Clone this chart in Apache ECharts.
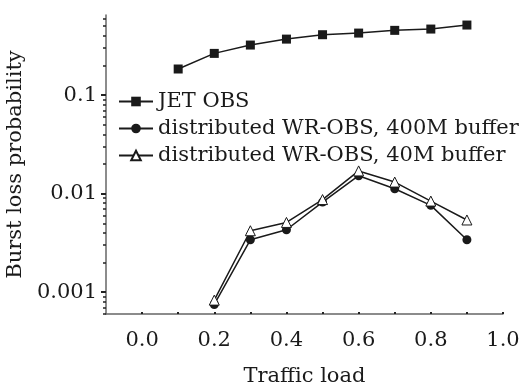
<!DOCTYPE html>
<html>
<head>
<meta charset="utf-8">
<script src="https://cdn.jsdelivr.net/npm/echarts@6/dist/echarts.min.js"></script>
<style>
  html, body { margin: 0; padding: 0; background: #fff; }
  #chart-panel { width: 522px; height: 383px; }
</style>
</head>
<body>
<div id="chart-panel"></div>
<script>
var loads = [0.1, 0.2, 0.3, 0.4, 0.5, 0.6, 0.7, 0.8, 0.9];
var jetObs = [0.184, 0.265, 0.322, 0.37, 0.41, 0.426, 0.454, 0.468, 0.514];
var wr400 = [null, 0.00075, 0.0034, 0.0043, 0.0082, 0.0152, 0.0112, 0.0076, 0.0034];
var wr40 = [null, 0.00083, 0.0042, 0.0051, 0.0087, 0.0170, 0.0131, 0.0084, 0.0054];
var xLabels = [0, 0.2, 0.4, 0.6, 0.8, 1.0];
var xTicks = [0, 0.1, 0.2, 0.3, 0.4, 0.5, 0.6, 0.7, 0.8, 0.9, 1.0];
var yLabels = [0.001, 0.01, 0.1];
var yMinor = [0.0006, 0.0007, 0.0008, 0.0009,
  0.002, 0.003, 0.004, 0.005, 0.006, 0.007, 0.008, 0.009,
  0.02, 0.03, 0.04, 0.05, 0.06, 0.07, 0.08, 0.09,
  0.2, 0.3, 0.4, 0.5, 0.6];

var font = 'DejaVu Serif';
var ink = '#1a1a1a';

function pairs (ys) {
  return loads.map(function (x, i) { return [x, ys[i]] })
}

var chart = echarts.init(document.getElementById('chart-panel'));

var option = {
  backgroundColor: '#fff',
  animation: false,
  grid: { left: 106, right: 19, top: 15, bottom: 69, outerBoundsMode: 'none' },
  legend: {
    left: 113,
    top: 86,
    orient: 'vertical',
    itemWidth: 34,
    itemHeight: 12,
    itemGap: 6,
    textStyle: { fontFamily: font, fontSize: 21, color: ink, lineHeight: 21 },
    data: ['JET OBS', 'distributed WR-OBS, 400M buffer', 'distributed WR-OBS, 40M buffer']
  },
  xAxis: {
    type: 'value',
    min: -0.1,
    max: 1.0,
    name: 'Traffic load',
    nameLocation: 'middle',
    nameGap: 52,
    nameTextStyle: { fontFamily: font, fontSize: 21, color: ink },
    axisLine: { onZero: false, lineStyle: { color: '#666', width: 1.5 } },
    axisTick: { customValues: xTicks, inside: true, length: 2, lineStyle: { color: '#222', width: 2 } },
    axisLabel: {
      customValues: xLabels,
      fontFamily: font, fontSize: 21, color: ink, margin: 16,
      formatter: function (v) { return v.toFixed(1) }
    },
    splitLine: { show: false }
  },
  yAxis: [
    {
      type: 'log',
      min: 0.0006,
      max: 0.65,
      name: 'Burst loss probability',
      nameLocation: 'middle',
      nameGap: 70,
      nameTextStyle: { fontFamily: font, fontSize: 21, color: ink },
      axisLine: { show: true, onZero: false, lineStyle: { color: '#666', width: 1.5 } },
      axisTick: { customValues: yLabels, length: 5, lineStyle: { color: '#222', width: 2 } },
      axisLabel: {
        customValues: yLabels,
        fontFamily: font, fontSize: 21, color: ink, margin: 9,
        formatter: function (v) { return String(v) }
      },
      splitLine: { show: false }
    },
    {
      type: 'log',
      min: 0.0006,
      max: 0.65,
      position: 'left',
      axisLine: { show: false, onZero: false },
      axisTick: { customValues: yMinor, length: 3, lineStyle: { color: '#222', width: 1.5 } },
      axisLabel: { show: false },
      splitLine: { show: false }
    }
  ],
  series: [
    {
      name: 'JET OBS',
      type: 'line',
      data: pairs(jetObs),
      symbol: 'rect',
      symbolSize: 9,
      itemStyle: { color: ink },
      lineStyle: { color: ink, width: 1.5 }
    },
    {
      name: 'distributed WR-OBS, 400M buffer',
      type: 'line',
      data: pairs(wr400),
      symbol: 'circle',
      symbolSize: 9,
      itemStyle: { color: ink },
      lineStyle: { color: ink, width: 1.5 }
    },
    {
      name: 'distributed WR-OBS, 40M buffer',
      type: 'line',
      data: pairs(wr40),
      symbol: 'triangle',
      symbolSize: 10,
      itemStyle: { color: '#fff', borderColor: ink, borderWidth: 1 },
      lineStyle: { color: ink, width: 1.5 }
    }
  ]
};

chart.setOption(option);
</script>
</body>
</html>
